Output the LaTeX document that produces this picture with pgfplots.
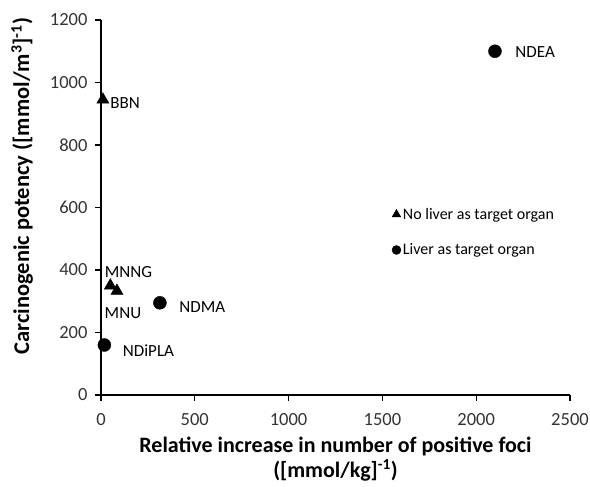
\documentclass[border=0pt]{standalone}
\usepackage{pgfplots}
\pgfplotsset{compat=1.18}
\usepackage{fontspec}
\setmainfont{Carlito}
\begin{document}
\begin{tikzpicture}[x=1pt,y=1pt]
\useasboundingbox (0,0) rectangle (590,487);
\begin{axis}[
  at={(101pt,92pt)}, anchor=south west,
  scale only axis, width=469pt, height=375pt,
  xmin=0, xmax=2500, ymin=0, ymax=1200,
  xtick={0,500,...,2500}, ytick={0,200,...,1200},
  axis x line*=bottom, axis y line*=left,
  axis line style={line width=1.2pt,-},
  tick style={line width=1.1pt, black},
  tick align=outside, major tick length=6pt,
  /pgf/number format/assume math mode=true,
  /pgf/number format/1000 sep={},
  tick label style={font=\fontsize{18.5}{20}\selectfont, text=black!80},
  xticklabel style={yshift=-9pt},
  yticklabel style={xshift=-4pt},
  xlabel={Relative increase in number of positive foci\\([mmol/kg]\textsuperscript{-1})},
  xlabel style={font=\bfseries\fontsize{22}{25}\selectfont, align=center,
    at={(axis description cs:0.5,0)}, anchor=center, yshift=-64pt},
  ylabel={Carcinogenic potency ([mmol/m\textsuperscript{3}]\textsuperscript{-1})},
  ylabel style={font=\bfseries\fontsize{22.5}{25}\selectfont,
    at={(axis description cs:-0.168,0.557)}, anchor=center},
  legend style={draw=none, fill=none, at={(axis cs:1550,605)}, anchor=north west,
    font=\fontsize{16}{18}\selectfont, row sep=19pt, inner sep=0pt},
  legend cell align=left,
  legend image code/.code={\draw[#1] plot coordinates {(0.25em,0pt)};},
  clip=false,
]
\addplot[only marks, mark=triangle*, mark size=5pt, black] coordinates {(-1000,-1000)};
\addlegendentry{No liver as target organ}
\addplot[only marks, mark=*, mark size=4.5pt, black] coordinates {(-1000,-1000)};
\addlegendentry{Liver as target organ}
% triangles: no liver as target organ
\addplot[only marks, mark=triangle*, mark size=7pt, black,
  nodes near coords, point meta=explicit symbolic,
  every node near coord/.style={anchor=west, xshift=4pt, yshift=-3pt, font=\fontsize{17}{19}\selectfont, black}]
  coordinates {(10,945) [BBN]};
\addplot[only marks, mark=triangle*, mark size=7pt, black,
  nodes near coords, point meta=explicit symbolic,
  every node near coord/.style={anchor=center, xshift=18pt, yshift=14pt, font=\fontsize{17}{19}\selectfont, black}]
  coordinates {(50,350) [MNNG]};
\addplot[only marks, mark=triangle*, mark size=7pt, black,
  nodes near coords, point meta=explicit symbolic,
  every node near coord/.style={anchor=center, xshift=6pt, yshift=-22pt, font=\fontsize{17}{19}\selectfont, black}]
  coordinates {(85,333) [MNU]};
% circles: liver as target organ
\addplot[only marks, mark=*, mark size=6.5pt, black,
  nodes near coords, point meta=explicit symbolic,
  every node near coord/.style={anchor=west, xshift=17pt, yshift=-1pt, font=\fontsize{17}{19}\selectfont, black}]
  coordinates {(2100,1100) [NDEA]};
\addplot[only marks, mark=*, mark size=6.5pt, black,
  nodes near coords, point meta=explicit symbolic,
  every node near coord/.style={anchor=west, xshift=16pt, yshift=-4pt, font=\fontsize{17}{19}\selectfont, black}]
  coordinates {(314,295) [NDMA]};
\addplot[only marks, mark=*, mark size=6.5pt, black,
  nodes near coords, point meta=explicit symbolic,
  every node near coord/.style={anchor=west, xshift=15pt, yshift=-6pt, font=\fontsize{17}{19}\selectfont, black}]
  coordinates {(18,160) [NDiPLA]};
\end{axis}
\end{tikzpicture}
\end{document}
